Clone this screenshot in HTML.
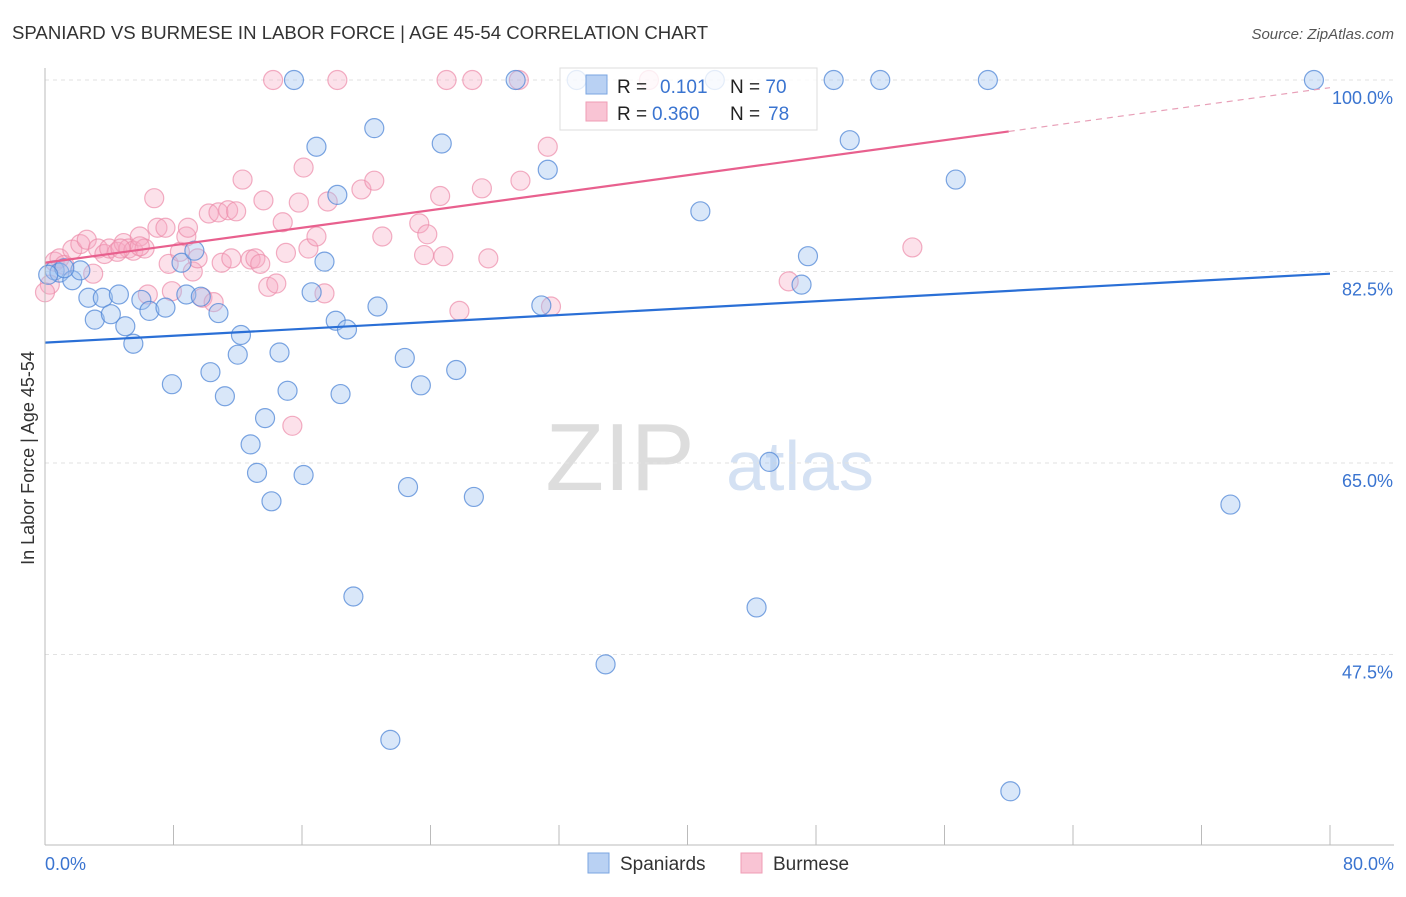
<!DOCTYPE html>
<html><head><meta charset="utf-8"><style>
body{margin:0;background:#fff;font-family:"Liberation Sans",sans-serif}
svg text{font-family:"Liberation Sans",sans-serif}
</style></head><body>
<svg id="chart" width="1406" height="892">
<text x="12" y="39" font-size="18.6" fill="#333">SPANIARD VS BURMESE IN LABOR FORCE | AGE 45-54 CORRELATION CHART</text>
<text x="1394" y="39" font-size="15" fill="#555" font-style="italic" text-anchor="end">Source: ZipAtlas.com</text>
<text x="620" y="490" font-size="96" fill="#ddd" font-family="Liberation Serif" text-anchor="middle">ZIP</text>
<text x="800" y="490" font-size="70" fill="#d4e1f3" text-anchor="middle">atlas</text>
<text transform="translate(34,458) rotate(-90)" font-size="18" fill="#333" text-anchor="middle">In Labor Force | Age 45-54</text>
<g id="grid"></g><g id="pts"></g><g id="trend"></g>
<line x1="45" y1="68" x2="45" y2="845" stroke="#bbb"/>
<line x1="45" y1="845" x2="1394" y2="845" stroke="#bbb"/>
<text x="45" y="870" font-size="18" fill="#3a74d0">0.0%</text>
<text x="1394" y="870" font-size="18" fill="#3a74d0" text-anchor="end">80.0%</text>
<g>
<rect x="560" y="68" width="257" height="62" fill="rgba(255,255,255,0.8)" stroke="#ddd"/>
<rect x="586" y="75" width="21" height="19" fill="#b9d1f3" stroke="#7aa5e0"/>
<rect x="586" y="102" width="21" height="19" fill="#f9c4d4" stroke="#ef9db5"/>
<text x="617" y="93" font-size="19" fill="#222">R = <tspan fill="#3a74d0" x="660">0.101</tspan><tspan x="730">N = </tspan><tspan fill="#3a74d0">70</tspan></text>
<text x="617" y="120" font-size="19" fill="#222">R = <tspan fill="#3a74d0" x="652">0.360</tspan><tspan x="730">N = </tspan><tspan fill="#3a74d0" x="768">78</tspan></text>
</g>
<g>
<rect x="588" y="853" width="21" height="20" fill="#b9d1f3" stroke="#7aa5e0"/>
<text x="620" y="870" font-size="19" fill="#333">Spaniards</text>
<rect x="741" y="853" width="21" height="20" fill="#f9c4d4" stroke="#ef9db5"/>
<text x="773" y="870" font-size="19" fill="#333">Burmese</text>
</g>
</svg>
<script>
const yTicks=[100,82.5,65,47.5];
const yTickLabels=["100.0%","82.5%","65.0%","47.5%"];
const blueX=[0.6,0.9,1.7,2.2,2.7,3.1,3.6,4.1,4.6,5.0,5.5,6.0,6.5,7.5,7.9,8.5,8.8,9.3,9.7,10.3,10.8,11.2,12.0,12.2,12.8,13.2,13.7,14.1,14.6,15.1,15.5,16.1,16.6,16.9,17.4,18.1,18.4,18.8,19.2,20.5,20.7,21.5,22.4,22.6,23.4,24.7,25.6,26.7,29.3,30.9,31.3,33.1,34.9,40.8,41.7,44.3,45.1,47.1,47.5,49.1,50.1,52.0,56.7,58.7,60.1,73.8,79.0,1.2,0.2,18.2];
const blueY=[82.6,82.4,81.7,82.6,80.1,78.1,80.1,78.6,80.4,77.5,75.9,79.9,78.9,79.2,72.2,83.3,80.4,84.4,80.2,73.3,78.7,71.1,74.9,76.7,66.7,64.1,69.1,61.5,75.1,71.6,100,63.9,80.6,93.9,83.4,78.0,71.3,77.2,52.8,95.6,79.3,39.7,74.6,62.8,72.1,94.2,73.5,61.9,100,79.4,91.8,100,46.6,88.0,100,51.8,65.1,81.3,83.9,100,94.5,100,90.9,100,35.0,61.2,100,82.8,82.2,89.5];
const pinkX=[0.3,0.6,0.9,1.2,1.7,2.2,2.6,3.0,3.3,3.7,4.0,4.5,4.9,5.2,5.5,5.9,6.2,6.4,6.8,7.0,7.5,7.7,7.9,8.4,8.8,8.9,9.2,9.5,9.8,10.2,10.5,10.8,11.0,11.4,11.6,11.9,12.3,12.8,13.1,13.4,13.6,13.9,14.4,14.8,15.0,15.4,15.8,16.1,16.4,16.9,17.4,17.6,18.2,19.7,20.5,21.0,23.3,23.6,23.8,24.6,24.8,25.0,25.8,26.6,27.2,27.6,29.5,29.6,31.3,31.5,37.6,46.3,54.0,14.2,0.0,4.7,5.9];
const pinkY=[81.3,83.4,83.7,83.1,84.5,85.0,85.4,82.3,84.6,84.1,84.6,84.3,85.1,84.6,84.4,85.7,84.6,80.4,89.2,86.5,86.5,83.2,80.7,84.3,85.7,86.5,82.5,83.7,80.1,87.8,79.7,87.9,83.3,88.1,83.7,88.0,90.9,83.6,83.7,83.2,89.0,81.1,81.4,87.0,84.2,68.4,88.8,92.0,84.6,85.7,80.5,88.9,100,90.0,90.8,85.7,86.9,84.0,85.9,89.4,83.9,100,78.9,100,90.1,83.7,100,90.8,93.9,79.3,100,81.6,84.7,100,80.6,84.6,84.8];
const blueTrend=[76.0,82.3];
const pinkTrend=[83.3,99.3];
const X0=45,X1=1330,Y100=80,PX_PER=191.5/17.5;
const sx=v=>X0+(v/80)*(X1-X0);
const sy=v=>Y100+(100-v)*PX_PER;
const NS="http://www.w3.org/2000/svg";
function mk(t,a,p){const e=document.createElementNS(NS,t);for(const k in a)e.setAttribute(k,a[k]);p.appendChild(e);return e;}
const grid=document.getElementById('grid');
yTicks.forEach((t,i)=>{
  const l=mk('line',{x1:45,x2:1394,y1:sy(t),y2:sy(t),stroke:'#e2e2e2','stroke-dasharray':'4,4'},grid);
  
  
  const tx=mk('text',{x:1393,y:sy(t)+24,'font-size':18,fill:'#3a74d0','text-anchor':'end'},grid);
  tx.textContent=yTickLabels[i];
  
  
});
for(let i=1;i<=10;i++){
  const l=mk('line',{x1:X0+i*128.5,x2:X0+i*128.5,y1:825,y2:845,stroke:'#bbb'},grid);
  
  
}
const pts=document.getElementById('pts');
pinkX.forEach((x,i)=>{
  const c=mk('circle',{cx:sx(x),cy:sy(pinkY[i]),r:9.5,fill:'rgba(246,170,195,0.35)',stroke:'rgba(236,140,170,0.7)','stroke-width':1.2},pts);
  
  
});
blueX.forEach((x,i)=>{
  const c=mk('circle',{cx:sx(x),cy:sy(blueY[i]),r:9.5,fill:'rgba(160,195,240,0.4)',stroke:'rgba(80,135,215,0.75)','stroke-width':1.2},pts);
  
  
});
const tr=document.getElementById('trend');
const bl=mk('line',{x1:sx(0),y1:sy(blueTrend[0]),x2:sx(80),y2:sy(blueTrend[1]),stroke:'#2a6fd6','stroke-width':2.2},tr);


const pm=pinkTrend[0]+(pinkTrend[1]-pinkTrend[0])*(60/80);
const pl=mk('line',{x1:sx(0),y1:sy(pinkTrend[0]),x2:sx(60),y2:sy(pm),stroke:'#e8608e','stroke-width':2.2},tr);


const pd=mk('line',{x1:sx(60),y1:sy(pm),x2:sx(80),y2:sy(pinkTrend[1]),stroke:'#e8a0b8','stroke-width':1.2,'stroke-dasharray':'6,5'},tr);


</script>
</body></html>
